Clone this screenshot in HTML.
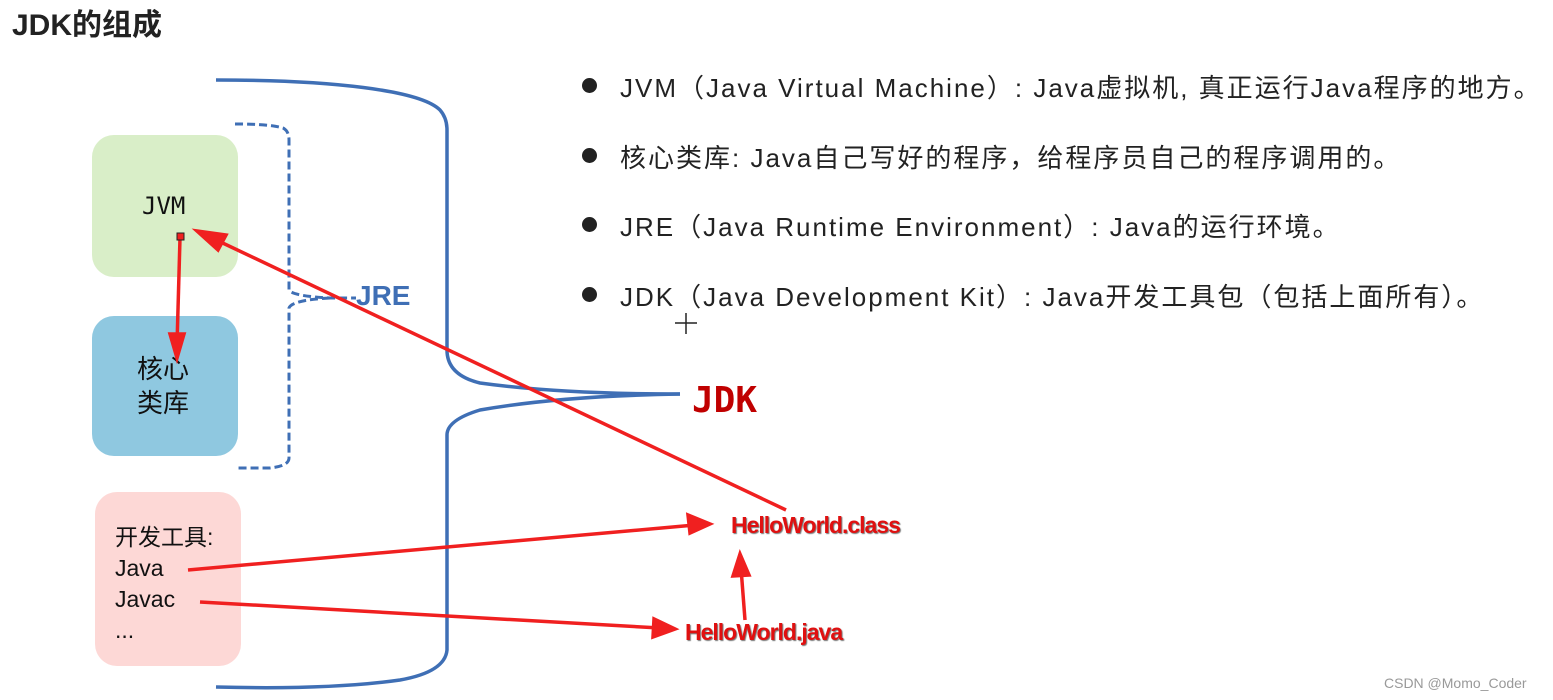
<!DOCTYPE html>
<html><head><meta charset="utf-8"><style>
body{margin:0;width:1553px;height:700px;background:#fff;position:relative;overflow:hidden;font-family:"Liberation Sans","Noto Sans CJK SC",sans-serif}
.t{position:absolute;white-space:nowrap}
.box{position:absolute;border-radius:22px}
.li{position:absolute;left:620px;font-size:26px;color:#222;white-space:nowrap;letter-spacing:2px}
.dot{position:absolute;left:582px;width:15px;height:15px;border-radius:50%;background:#222}
</style></head><body>
<div class="t" style="left:12px;top:0px;font-size:30px;font-weight:bold;color:#222">JDK的组成</div>
<div class="box" style="left:92px;top:135px;width:146px;height:142px;background:#d9eec8"></div>
<div class="box" style="left:92px;top:316px;width:146px;height:140px;background:#8fc8e0"></div>
<div class="box" style="left:95px;top:492px;width:146px;height:174px;background:#fdd8d6"></div>
<div class="t" style="left:142px;top:192px;font-size:24px;font-family:'DejaVu Sans Mono',monospace;color:#111">JVM</div>
<div class="t" style="left:137px;top:352px;font-size:26px;line-height:34px;color:#111">核心<br>类库</div>
<div class="t" style="left:115px;top:522px;font-size:23px;line-height:31px;color:#111">开发工具:<br>Java<br>Javac<br>...</div>
<div class="t" style="left:356px;top:280px;font-size:28px;font-weight:bold;color:#3f6fb5">JRE</div>
<div class="t" style="left:692px;top:380px;font-size:36px;font-weight:bold;color:#c00000;font-family:'DejaVu Sans Mono',monospace">JDK</div>
<div class="t" style="left:731px;top:512px;font-size:23px;font-weight:bold;color:#e01010;letter-spacing:-1px;text-shadow:1px 1px 1px #777">HelloWorld.class</div>
<div class="t" style="left:685px;top:619px;font-size:23px;font-weight:bold;color:#e01010;letter-spacing:-1px;text-shadow:1px 1px 1px #777">HelloWorld.java</div>
<svg width="1553" height="700" style="position:absolute;left:0;top:0">
<g fill="none" stroke="#3f6fb5" stroke-width="3.5">
<path d="M216 80 C330 80 420 90 440 110 Q447 118 447 130 L447 350 Q447 375 480 383 Q560 394 680 394"/>
<path d="M680 394 Q560 396 480 410 Q447 420 447 435 L447 650 Q445 672 400 680 Q330 690 216 687"/>
</g>
<g fill="none" stroke="#3f6fb5" stroke-width="3" stroke-dasharray="8,4">
<path d="M235 124 Q270 124 283 128 Q289 131 289 140 L289 290 Q292 296 330 298 L356 298"/>
<path d="M330 298 Q292 300 289 308 L289 458 Q289 466 270 468 L235 468"/>
</g>
<g stroke="#f02020" stroke-width="3.5" fill="#f02020">
<line x1="786" y1="510" x2="210" y2="237"/>
<polygon points="197,231 226,235 218,250"/>
<line x1="180" y1="238" x2="177" y2="345"/>
<polygon points="177,358 170,334 184,334"/>
<line x1="188" y1="570" x2="695" y2="525"/>
<polygon points="710,524 688,515 690,533"/>
<line x1="200" y1="602" x2="660" y2="628"/>
<polygon points="675,629 654,619 653,637"/>
<line x1="745" y1="620" x2="741" y2="568"/>
<polygon points="740,554 733,576 749,575"/>
</g>
<rect x="177" y="233" width="7" height="7" fill="#f02020" stroke="#222" stroke-width="1"/>
<line x1="686" y1="313" x2="686" y2="334" stroke="#222" stroke-width="1.5"/>
<line x1="675" y1="323" x2="697" y2="323" stroke="#222" stroke-width="1.5"/>
</svg>
<div class="dot" style="top:78px"></div><div class="li" style="top:68px">JVM（Java Virtual Machine）: Java虚拟机, 真正运行Java程序的地方。</div>
<div class="dot" style="top:148px"></div><div class="li" style="top:138px">核心类库: Java自己写好的程序，给程序员自己的程序调用的。</div>
<div class="dot" style="top:217px"></div><div class="li" style="top:207px">JRE（Java Runtime Environment）: Java的运行环境。</div>
<div class="dot" style="top:287px"></div><div class="li" style="top:277px">JDK（Java Development Kit）: Java开发工具包（包括上面所有）。</div>
<div class="t" style="left:1384px;top:675px;font-size:14px;color:#999">CSDN @Momo_Coder</div>
</body></html>
